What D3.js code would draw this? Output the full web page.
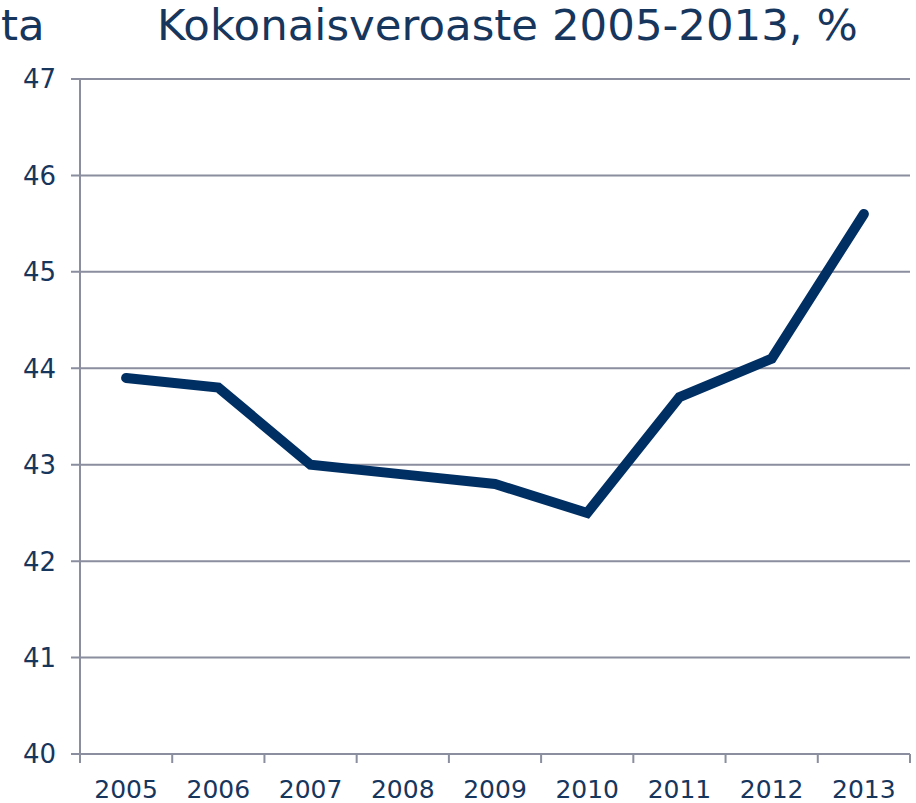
<!DOCTYPE html>
<html>
<head>
<meta charset="utf-8">
<script src="https://cdn.jsdelivr.net/npm/d3@7"></script>
<style>
  body { margin: 0; background: #fff; }
  svg { display: block; }
  text { font-family: "DejaVu Sans", Verdana, sans-serif; fill: #17365d; }
</style>
</head>
<body>
<div id="chart"></div>
<script>
// Chart data
const years = ["2005", "2006", "2007", "2008", "2009", "2010", "2011", "2012", "2013"];
const taxRate = [43.9, 43.8, 43.0, 42.9, 42.8, 42.5, 43.7, 44.1, 45.6];
const yTicks = [40, 41, 42, 43, 44, 45, 46, 47];

const width = 916, height = 803;
const margin = { top: 79, right: 6, bottom: 49, left: 80 };

const svg = d3.select("#chart").append("svg")
    .attr("width", width)
    .attr("height", height);

// Scales
const x = d3.scaleBand()
    .domain(years)
    .range([margin.left, width - margin.right]);

const y = d3.scaleLinear()
    .domain([40, 47])
    .range([height - margin.bottom, margin.top]);

// Horizontal gridlines
svg.append("g")
    .selectAll("line")
    .data(yTicks)
    .join("line")
    .attr("x1", margin.left - 9)
    .attr("x2", width - margin.right)
    .attr("y1", d => y(d))
    .attr("y2", d => y(d))
    .attr("stroke", "#8a8e9e")
    .attr("stroke-width", 2);

// Y axis labels
svg.append("g")
    .selectAll("text")
    .data(yTicks)
    .join("text")
    .attr("x", 56)
    .attr("y", d => y(d))
    .attr("dy", "0.36em")
    .attr("text-anchor", "end")
    .style("font-size", "26px")
    .text(d => d);

// Vertical axis line
svg.append("line")
    .attr("x1", margin.left).attr("x2", margin.left)
    .attr("y1", y(47)).attr("y2", y(40) + 9)
    .attr("stroke", "#8a8e9e")
    .attr("stroke-width", 2);

// X axis ticks at band edges
const edges = years.map(d => x(d)).concat([x(years[years.length - 1]) + x.bandwidth()]);
svg.append("g")
    .selectAll("line")
    .data(edges.slice(1))
    .join("line")
    .attr("x1", d => d).attr("x2", d => d)
    .attr("y1", y(40)).attr("y2", y(40) + 9)
    .attr("stroke", "#8a8e9e")
    .attr("stroke-width", 2);

// X axis labels
svg.append("g")
    .selectAll("text")
    .data(years)
    .join("text")
    .attr("x", d => x(d) + x.bandwidth() / 2)
    .attr("y", 798)
    .attr("text-anchor", "middle")
    .style("font-size", "25px")
    .text(d => d);

// Data line
const line = d3.line()
    .x((d, i) => x(years[i]) + x.bandwidth() / 2)
    .y(d => y(d));

svg.append("path")
    .datum(taxRate)
    .attr("d", line)
    .attr("fill", "none")
    .attr("stroke", "#002f63")
    .attr("stroke-width", 10)
    .attr("stroke-linecap", "round")
    .attr("stroke-linejoin", "miter");

// Title (fit to its width in the reference)
const title = svg.append("text")
    .attr("x", 157)
    .attr("y", 40)
    .style("font-size", "34px")
    .text("Kokonaisveroaste 2005-2013, %");
const tw = title.node().getComputedTextLength();
title.style("font-size", (34 * 701 / tw) + "px");

svg.append("text")
    .attr("x", 1)
    .attr("y", 40)
    .style("font-size", (34 * 701 / tw) + "px")
    .text("ta");
</script>
</body>
</html>
